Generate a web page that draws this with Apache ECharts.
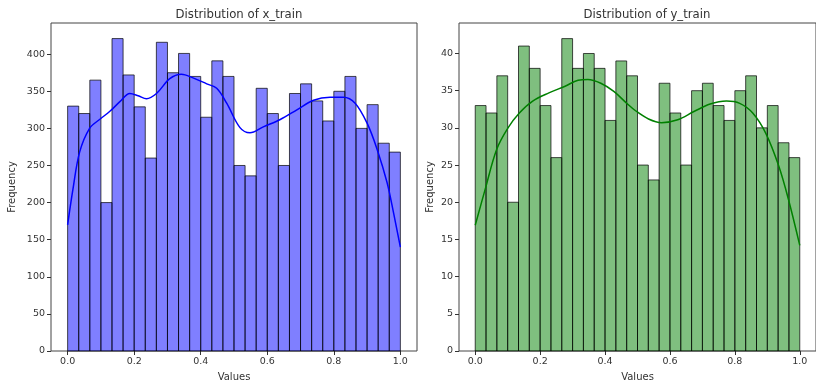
<!DOCTYPE html>
<html><head><meta charset="utf-8">
<script src="https://cdn.jsdelivr.net/npm/echarts@6/dist/echarts.min.js"></script>
<style>html,body{margin:0;padding:0;background:#fff}#c{width:816px;height:387px}</style>
</head><body><div id="c"></div>
<script>
const xTrainCounts = [330,320,365,200,421,372,329,260,416,375,401,370,315,391,370,250,236,354,320,250,347,360,337,310,350,370,300,332,280,268];
const yTrainCounts = [33,32,37,20,41,38,33,26,42,38,40,38,31,39,37,25,23,36,32,25,35,36,33,31,35,37,30,33,28,26];
const xKde = [[0,170],[0.016,218],[0.036,268],[0.066,300],[0.096,312],[0.127,323],[0.157,336],[0.187,347],[0.212,344],[0.237,340],[0.267,347],[0.307,367],[0.342,373],[0.377,368],[0.418,360],[0.448,354],[0.478,334],[0.518,301],[0.548,294],[0.588,302],[0.639,312],[0.689,325],[0.739,338],[0.789,342],[0.829,342],[0.864,334],[0.900,307],[0.930,272],[0.960,227],[0.980,185],[1.0,140]];
const yKde = [[0,16.9],[0.031,21.8],[0.066,27.1],[0.101,30.0],[0.136,32.0],[0.177,33.6],[0.227,34.7],[0.277,35.6],[0.317,36.4],[0.347,36.5],[0.387,36.0],[0.427,34.9],[0.467,33.3],[0.494,32.3],[0.534,31.2],[0.574,30.7],[0.624,31.1],[0.674,32.2],[0.724,33.2],[0.774,33.6],[0.815,33.3],[0.855,32.0],[0.895,29.3],[0.935,24.9],[0.965,20.4],[1.0,14.2]];
const xTickLabels = [0,0.2,0.4,0.6,0.8,1.0];
const yTicksLeft = [0,50,100,150,200,250,300,350,400];
const yTicksRight = [0,5,10,15,20,25,30,35,40];
const titles = ['Distribution of x_train','Distribution of y_train'];

const nBins = xTrainCounts.length;
function bins(counts){ return counts.map((c,i)=>[i/nBins,(i+1)/nBins,c]); }
const font = 'DejaVu Sans';
const tc = '#333';
function xAx(gi){ return {gridIndex:gi,type:'value',min:-0.05,max:1.05,name:'Values',nameLocation:'middle',nameGap:21,
  nameTextStyle:{fontFamily:font,fontSize:10,color:tc},
  axisLine:{show:false,onZero:false},splitLine:{show:false},
  axisTick:{show:true,customValues:xTickLabels,length:4,lineStyle:{color:'#333'}},
  axisLabel:{customValues:xTickLabels,formatter:v=>v.toFixed(1),fontFamily:font,fontSize:9.5,color:tc,margin:6}}; }
function yAx(gi,max,ticks,gap){ return {gridIndex:gi,type:'value',min:0,max:max,name:'Frequency',nameLocation:'middle',nameGap:gap,
  nameTextStyle:{fontFamily:font,fontSize:10,color:tc},
  axisLine:{show:false,onZero:false},splitLine:{show:false},
  axisTick:{show:true,customValues:ticks,length:4,lineStyle:{color:'#333'}},
  axisLabel:{customValues:ticks,fontFamily:font,fontSize:9.5,color:tc,margin:6}}; }
function histSeries(idx,counts,fill){ return {type:'custom',xAxisIndex:idx,yAxisIndex:idx,data:bins(counts),
  renderItem:(params,api)=>{const p0=api.coord([api.value(0),api.value(2)]);const p1=api.coord([api.value(1),0]);
    return {type:'rect',shape:{x:p0[0],y:p0[1],width:p1[0]-p0[0],height:p1[1]-p0[1]},
      style:{fill:fill,stroke:'rgba(0,0,0,0.7)',lineWidth:1}};},
  encode:{x:[0,1],y:2}}; }
function kdeSeries(idx,pts,color){ return {type:'line',xAxisIndex:idx,yAxisIndex:idx,data:pts,smooth:0.35,showSymbol:false,
  lineStyle:{color:color,width:1.5},z:5}; }

const chart = echarts.init(document.getElementById('c'),null,{renderer:'canvas'});
chart.setOption({
  animation:false,
  title:[
    {text:titles[0],left:234,top:4,textAlign:'center',textStyle:{fontFamily:font,fontSize:11.7,fontWeight:'normal',color:tc}},
    {text:titles[1],left:642,top:4,textAlign:'center',textStyle:{fontFamily:font,fontSize:11.7,fontWeight:'normal',color:tc}}
  ],
  grid:[
    {left:51,right:399,top:23,bottom:34,show:true,borderColor:'#444',borderWidth:1,backgroundColor:'transparent'},
    {left:459,right:-9,top:23,bottom:34,show:true,borderColor:'#444',borderWidth:1,backgroundColor:'transparent'}
  ],
  xAxis:[xAx(0),xAx(1)],
  yAxis:[yAx(0,442,yTicksLeft,34),yAx(1,44.1,yTicksRight,24)],
  series:[
    histSeries(0,xTrainCounts,'rgba(0,0,255,0.5)'),
    kdeSeries(0,xKde,'#0000ff'),
    histSeries(1,yTrainCounts,'rgba(0,128,0,0.5)'),
    kdeSeries(1,yKde,'#008000')
  ]
});
</script></body></html>
